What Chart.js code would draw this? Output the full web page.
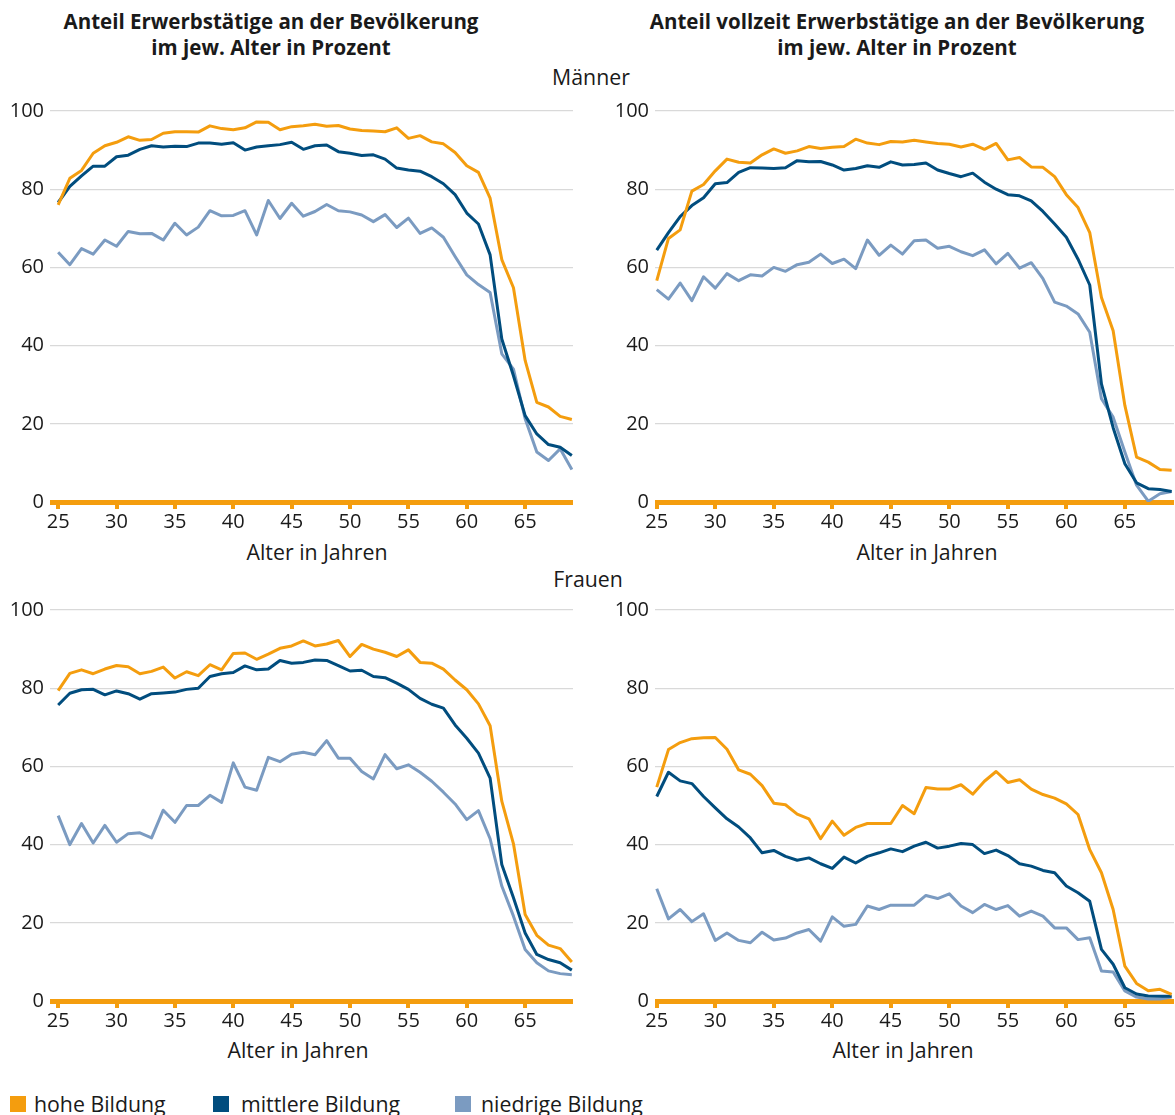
<!DOCTYPE html>
<html lang="de">
<head>
<meta charset="utf-8">
<script src="https://cdn.jsdelivr.net/npm/chart.js@4.4.1/dist/chart.umd.min.js"></script>
<style>
  body { margin: 0; background: #fff; font-family: 'Open Sans', sans-serif; color: #1a1a1a; }
  #page { position: relative; width: 1175px; height: 1115px; overflow: hidden; }
  .titel { position: absolute; top: 8px; width: 560px; font-weight: bold; font-size: 20.5px; line-height: 26px; text-align: center; }
  .text { position: absolute; width: 240px; font-size: 21.3px; line-height: 26px; text-align: center; white-space: nowrap; }
  canvas { position: absolute; }
  .box { position: absolute; top: 1096px; width: 16px; height: 16px; }
  .legende { position: absolute; top: 1091px; font-size: 21.3px; line-height: 26px; white-space: nowrap; }
</style>
</head>
<body>
<div id="page">
  <div class="titel" style="left: -9px;">Anteil Erwerbstätige an der Bevölkerung<br>im jew. Alter in Prozent</div>
  <div class="titel" style="left: 617px;">Anteil vollzeit Erwerbstätige an der Bevölkerung<br>im jew. Alter in Prozent</div>
  <div class="text" style="left: 471px; top: 64px;">Männer</div>
  <div class="text" style="left: 468px; top: 566px;">Frauen</div>

  <canvas id="maennerErw" width="573" height="442" style="left: 0; top: 93px;"></canvas>
  <canvas id="maennerVz" width="574" height="442" style="left: 600px; top: 93px;"></canvas>
  <canvas id="frauenErw" width="573" height="442" style="left: 0; top: 592px;"></canvas>
  <canvas id="frauenVz" width="574" height="442" style="left: 600px; top: 592px;"></canvas>

  <div class="text" style="left: 197px; top: 539px;">Alter in Jahren</div>
  <div class="text" style="left: 807px; top: 539px;">Alter in Jahren</div>
  <div class="text" style="left: 178px; top: 1037px;">Alter in Jahren</div>
  <div class="text" style="left: 783px; top: 1037px;">Alter in Jahren</div>

  <div class="box" style="left: 10px; background: #f49d0e;"></div>
  <div class="legende" style="left: 34px;">hohe Bildung</div>
  <div class="box" style="left: 213px; background: #014d7e;"></div>
  <div class="legende" style="left: 241px;">mittlere Bildung</div>
  <div class="box" style="left: 455px; background: #7b9bc1;"></div>
  <div class="legende" style="left: 481px;">niedrige Bildung</div>
</div>

<script>
const alter = [25, 26, 27, 28, 29, 30, 31, 32, 33, 34, 35, 36, 37, 38, 39, 40, 41, 42, 43, 44,
  45, 46, 47, 48, 49, 50, 51, 52, 53, 54, 55, 56, 57, 58, 59, 60, 61, 62, 63, 64, 65, 66, 67, 68, 69];

// Männer, Erwerbstätige
const mErwHoch = [76.0, 82.8, 84.8, 89.2, 91.1, 92.0, 93.4, 92.5, 92.7, 94.3,
  94.7, 94.7, 94.6, 96.2, 95.5, 95.2, 95.7, 97.2, 97.1, 95.2,
  96.0, 96.2, 96.6, 96.1, 96.3, 95.4, 95.0, 94.9, 94.7, 95.7,
  93.0, 93.7, 92.1, 91.6, 89.4, 86.0, 84.3, 77.7, 62.0, 54.8,
  36.2, 25.5, 24.3, 21.9, 21.1];
const mErwMittel = [76.6, 80.7, 83.4, 85.9, 85.9, 88.3, 88.7, 90.2, 91.1, 90.8,
  91.0, 90.9, 91.8, 91.8, 91.5, 91.9, 90.0, 90.8, 91.1, 91.4,
  92.0, 90.2, 91.1, 91.3, 89.6, 89.2, 88.6, 88.8, 87.7, 85.4,
  84.9, 84.6, 83.2, 81.4, 78.6, 73.9, 71.1, 63.2, 41.7, 32.3,
  22.1, 17.4, 14.7, 14.0, 11.9];
const mErwNiedrig = [63.9, 60.7, 64.8, 63.4, 67.0, 65.4, 69.2, 68.6, 68.7, 67.0,
  71.3, 68.3, 70.3, 74.5, 73.2, 73.3, 74.5, 68.3, 77.1, 72.5,
  76.4, 73.1, 74.3, 76.1, 74.5, 74.2, 73.4, 71.7, 73.5, 70.2,
  72.6, 68.7, 70.1, 67.7, 62.8, 58.1, 55.6, 53.6, 37.9, 34.0,
  21.3, 12.8, 10.6, 13.6, 8.3];

// Männer, vollzeit Erwerbstätige
const mVzHoch = [56.6, 67.4, 69.6, 79.5, 81.2, 84.7, 87.7, 86.9, 86.7, 88.8,
  90.3, 89.2, 89.8, 90.9, 90.4, 90.7, 90.9, 92.8, 91.8, 91.4,
  92.2, 92.1, 92.5, 92.1, 91.7, 91.5, 90.8, 91.5, 90.2, 91.7,
  87.5, 88.1, 85.7, 85.6, 83.2, 78.6, 75.3, 68.9, 52.3, 43.8,
  24.7, 11.5, 10.2, 8.3, 8.1];
const mVzMittel = [64.4, 68.9, 73.0, 75.8, 77.8, 81.4, 81.7, 84.3, 85.5, 85.4,
  85.3, 85.5, 87.3, 87.0, 87.1, 86.2, 84.9, 85.3, 86.0, 85.6,
  87.0, 86.2, 86.3, 86.7, 84.9, 84.0, 83.2, 84.1, 81.8, 80.0,
  78.6, 78.3, 77.0, 74.3, 71.1, 67.7, 62.1, 55.5, 30.2, 19.0,
  9.8, 4.9, 3.4, 3.2, 2.7];
const mVzNiedrig = [54.3, 51.9, 56.0, 51.5, 57.6, 54.7, 58.4, 56.6, 58.1, 57.8,
  60.0, 59.0, 60.7, 61.3, 63.4, 61.0, 62.1, 59.7, 67.0, 63.1,
  65.7, 63.4, 66.8, 67.0, 64.9, 65.4, 64.0, 63.0, 64.5, 60.9,
  63.6, 59.8, 61.2, 57.1, 51.1, 50.1, 48.1, 43.4, 26.4, 21.7,
  12.8, 4.3, 0.2, 2.1, 2.7];

// Frauen, Erwerbstätige
const fErwHoch = [79.4, 83.8, 84.7, 83.7, 84.9, 85.8, 85.5, 83.7, 84.3, 85.4,
  82.6, 84.2, 83.2, 86.0, 84.7, 88.9, 89.0, 87.4, 88.7, 90.2,
  90.8, 92.1, 90.8, 91.3, 92.2, 88.1, 91.2, 90.0, 89.2, 88.1,
  89.8, 86.6, 86.4, 84.9, 82.1, 79.6, 76.0, 70.4, 51.1, 40.2,
  22.1, 16.8, 14.3, 13.4, 10.0];
const fErwMittel = [75.7, 78.7, 79.6, 79.7, 78.3, 79.3, 78.6, 77.2, 78.6, 78.8,
  79.0, 79.7, 80.0, 83.0, 83.7, 84.0, 85.7, 84.7, 84.9, 87.1,
  86.4, 86.6, 87.2, 87.1, 85.8, 84.4, 84.6, 83.0, 82.7, 81.3,
  79.7, 77.4, 75.9, 74.9, 70.6, 67.2, 63.4, 57.0, 34.9, 26.4,
  17.4, 11.9, 10.6, 9.8, 7.9];
const fErwNiedrig = [47.4, 40.0, 45.4, 40.4, 44.9, 40.6, 42.8, 43.0, 41.7, 48.8,
  45.7, 50.0, 50.0, 52.6, 50.8, 60.9, 54.7, 53.9, 62.3, 61.2,
  63.1, 63.6, 63.0, 66.6, 62.1, 62.1, 58.7, 56.8, 63.0, 59.4,
  60.4, 58.5, 56.2, 53.4, 50.4, 46.4, 48.7, 41.5, 29.4, 21.7,
  13.2, 9.8, 7.7, 7.0, 6.7];

// Frauen, vollzeit Erwerbstätige
const fVzHoch = [54.7, 64.3, 66.1, 67.1, 67.3, 67.4, 64.4, 59.1, 58.0, 55.1,
  50.6, 50.2, 47.8, 46.6, 41.5, 46.0, 42.4, 44.4, 45.4, 45.4,
  45.4, 50.0, 47.9, 54.6, 54.2, 54.2, 55.3, 52.9, 56.2, 58.7,
  55.9, 56.6, 54.2, 52.8, 51.9, 50.4, 47.7, 38.7, 32.8, 23.4,
  8.9, 4.5, 2.6, 3.0, 1.7];
const fVzMittel = [52.3, 58.5, 56.3, 55.6, 52.3, 49.4, 46.6, 44.5, 41.7, 37.9,
  38.5, 37.0, 36.0, 36.6, 35.1, 33.9, 36.8, 35.3, 37.0, 37.9,
  38.9, 38.2, 39.6, 40.6, 39.1, 39.6, 40.3, 40.0, 37.7, 38.6,
  37.2, 35.1, 34.5, 33.4, 32.8, 29.4, 27.7, 25.5, 13.2, 9.4,
  3.4, 1.8, 1.3, 1.2, 1.2];
const fVzNiedrig = [28.7, 21.0, 23.4, 20.3, 22.3, 15.5, 17.4, 15.5, 14.9, 17.6,
  15.6, 16.1, 17.4, 18.3, 15.3, 21.5, 19.1, 19.6, 24.3, 23.4,
  24.5, 24.5, 24.5, 27.0, 26.2, 27.4, 24.3, 22.6, 24.7, 23.4,
  24.4, 21.7, 23.0, 21.7, 18.7, 18.7, 15.7, 16.2, 7.7, 7.4,
  2.6, 1.0, 0.5, 0.5, 1.0];

const yTicks = [0, 20, 40, 60, 80, 100];
const xTicks = [25, 30, 35, 40, 45, 50, 55, 60, 65];

const ORANGE = '#f49d0e';
const DUNKELBLAU = '#014d7e';
const HELLBLAU = '#7b9bc1';
const TEXT = '#1a1a1a';

Chart.defaults.font.family = "'Open Sans', sans-serif";
Chart.defaults.color = TEXT;

function zeichne(id, hoch, mittel, niedrig, yBreite, xMin, xMax) {
  const ctx = document.getElementById(id).getContext('2d');
  const linie = (label, werte, farbe) => ({
    label: label,
    data: werte.map((v, i) => ({ x: alter[i], y: v })),
    borderColor: farbe,
    borderWidth: 3,
    borderJoinStyle: 'round',
    pointRadius: 0,
    tension: 0,
    fill: false,
  });
  return new Chart(ctx, {
    type: 'line',
    data: {
      datasets: [
        linie('hohe Bildung', hoch, ORANGE),
        linie('mittlere Bildung', mittel, DUNKELBLAU),
        linie('niedrige Bildung', niedrig, HELLBLAU),
      ],
    },
    options: {
      responsive: false,
      animation: false,
      events: [],
      layout: { padding: { top: 2, right: 0, bottom: 0, left: 0 } },
      plugins: { legend: { display: false }, tooltip: { enabled: false } },
      scales: {
        x: {
          type: 'linear',
          min: xMin,
          max: xMax,
          border: { display: false },
          grid: { drawOnChartArea: false, drawTicks: true, tickLength: 7, color: ORANGE, lineWidth: 4 },
          ticks: { stepSize: 5, includeBounds: false, padding: 1, maxRotation: 0, font: { size: 20 }, color: TEXT },
          afterBuildTicks: (scale) => { scale.ticks = xTicks.map((v) => ({ value: v })); },
        },
        y: {
          min: 0,
          max: 100,
          border: { display: false },
          grid: {
            drawTicks: false,
            // the zero line doubles as the thick orange base line
            color: (c) => (c.tick && c.tick.value === 0 ? ORANGE : '#d9d9d9'),
            lineWidth: (c) => (c.tick && c.tick.value === 0 ? 5 : 1.2),
          },
          ticks: { padding: 6, font: { size: 20 }, color: TEXT },
          afterBuildTicks: (scale) => { scale.ticks = yTicks.map((v) => ({ value: v })); },
          afterFit: (scale) => { scale.width = yBreite; },
        },
      },
    },
  });
}

zeichne('maennerErw', mErwHoch, mErwMittel, mErwNiedrig, 50, 24.3, 69.1);
zeichne('maennerVz', mVzHoch, mVzMittel, mVzNiedrig, 55, 24.85, 69.2);
zeichne('frauenErw', fErwHoch, fErwMittel, fErwNiedrig, 50, 24.3, 69.1);
zeichne('frauenVz', fVzHoch, fVzMittel, fVzNiedrig, 55, 24.85, 69.2);
</script>
</body>
</html>
